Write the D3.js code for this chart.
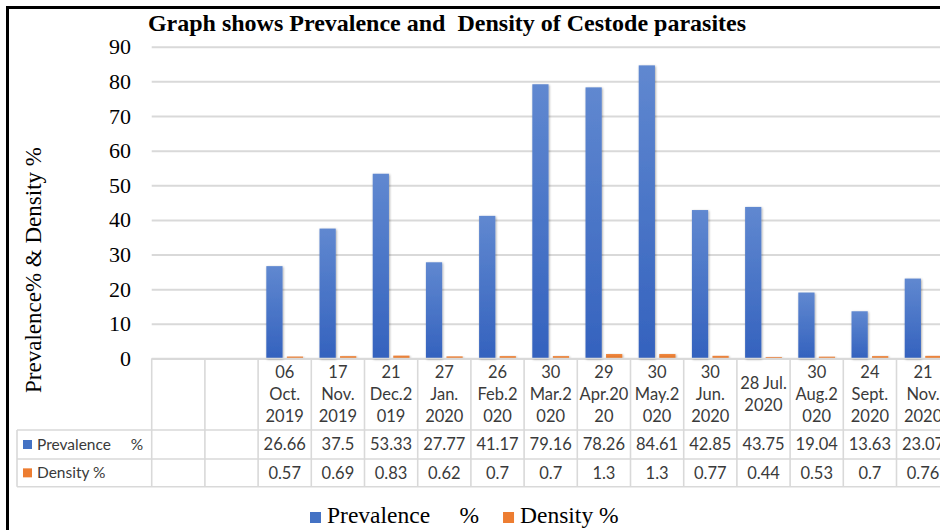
<!DOCTYPE html>
<html>
<head>
<meta charset="utf-8">
<script src="https://cdn.jsdelivr.net/npm/d3@7"></script>
<style>
  body { margin: 0; background: #fff; }
  svg { display: block; }
</style>
</head>
<body>
<svg id="chart" width="940" height="530"></svg>
<script>
// data
const categories = ["", "", "06\nOct.\n2019", "17\nNov.\n2019", "21\nDec.2\n019", "27\nJan.\n2020",
  "26\nFeb.2\n020", "30\nMar.2\n020", "29\nApr.20\n20", "30\nMay.2\n020", "30\nJun.\n2020",
  "28 Jul.\n2020", "30\nAug.2\n020", "24\nSept.\n2020", "21\nNov.\n2020"];
const prevalence = [null, null, 26.66, 37.5, 53.33, 27.77, 41.17, 79.16, 78.26, 84.61, 42.85, 43.75, 19.04, 13.63, 23.07];
const density = [null, null, 0.57, 0.69, 0.83, 0.62, 0.7, 0.7, 1.3, 1.3, 0.77, 0.44, 0.53, 0.7, 0.76];
const seriesNames = ["Prevalence     %", "Density %"];
const yTicks = [0, 10, 20, 30, 40, 50, 60, 70, 80, 90];

const serif = '"Liberation Serif", "Times New Roman", serif';
const sans = 'Lato, "Noto Sans", sans-serif';
const colors = ["#4472c4", "#ed7d31"];
const gridColor = "#d9d9d9";
const tableText = "#3a3a3a";
const tableFont = "16.5px";

const svg = d3.select("#chart");
const plotLeft = 151.7, plotRight = 949.7;

const x0 = d3.scaleBand()
  .domain(d3.range(categories.length))
  .range([plotLeft, plotRight]);
const x1 = d3.scaleBand()
  .domain([0, 1])
  .range([0, x0.bandwidth()])
  .paddingInner(0.21)
  .paddingOuter(0.4);
const y = d3.scaleLinear().domain([0, 90]).range([358.5, 46.7]);

// gradients + shadow
const defs = svg.append("defs");
const grads = [["#6088d0", "#3462be"], ["#f08a45", "#e0701f"]];
grads.forEach((g, i) => {
  const lg = defs.append("linearGradient").attr("id", "grad" + i)
    .attr("x1", 0).attr("y1", 0).attr("x2", 0).attr("y2", 1);
  lg.append("stop").attr("offset", "0%").attr("stop-color", g[0]);
  lg.append("stop").attr("offset", "100%").attr("stop-color", g[1]);
});
defs.append("filter").attr("id", "shadow")
  .attr("x", "-50%").attr("y", "-10%").attr("width", "200%").attr("height", "120%")
  .append("feDropShadow")
  .attr("dx", 0.8).attr("dy", 0.8).attr("stdDeviation", 1.2)
  .attr("flood-color", "#000").attr("flood-opacity", 0.35);

// title
svg.append("text")
  .attr("x", 447).attr("y", 30.5)
  .attr("text-anchor", "middle")
  .style("font-family", serif).style("font-weight", "bold").style("font-size", "24px")
  .style("white-space", "pre")
  .text("Graph shows Prevalence and  Density of Cestode parasites");

// gridlines
const grid = svg.append("g")
  .attr("transform", `translate(${plotLeft},0)`)
  .call(d3.axisLeft(y).tickValues(yTicks).tickSize(-(plotRight - plotLeft)).tickFormat(""));
grid.select(".domain").remove();
grid.selectAll("line").attr("stroke", gridColor).attr("stroke-width", 2);

// y tick labels
const yAxis = svg.append("g")
  .attr("transform", "translate(131,0)")
  .call(d3.axisLeft(y).tickValues(yTicks).tickSize(0).tickPadding(0));
yAxis.select(".domain").remove();
yAxis.selectAll("text")
  .style("font-family", serif).style("font-size", "22px").attr("fill", "#000");

// y title
svg.append("text")
  .attr("transform", "translate(41,270) rotate(-90)")
  .attr("text-anchor", "middle")
  .style("font-family", serif).style("font-size", "23px")
  .text("Prevalence% & Density %");

// bars
const series = [prevalence, density];
series.forEach((vals, s) => {
  svg.append("g").selectAll("rect")
    .data(vals.map((v, i) => ({ v, i })).filter(d => d.v != null))
    .join("rect")
    .attr("x", d => x0(d.i) + x1(s))
    .attr("y", d => y(d.v))
    .attr("width", x1.bandwidth())
    .attr("height", d => y(0) - y(d.v))
    .attr("fill", `url(#grad${s})`)
    .attr("filter", "url(#shadow)");
});

// data table
const headTop = y(0), headBot = 430, row1Bot = 459, row2Bot = 486.7, keyLeft = 17;
const table = svg.append("g").attr("stroke", gridColor).attr("stroke-width", 1.6);
table.append("line").attr("x1", plotLeft).attr("x2", plotRight).attr("y1", headTop).attr("y2", headTop);
[headBot, row1Bot, row2Bot].forEach(yy =>
  table.append("line").attr("x1", keyLeft).attr("x2", plotRight).attr("y1", yy).attr("y2", yy));
table.append("line").attr("x1", keyLeft).attr("x2", keyLeft).attr("y1", headBot).attr("y2", row2Bot);
table.selectAll(".v").data(d3.range(categories.length + 1)).join("line")
  .attr("x1", i => i < categories.length ? x0(i) : plotRight)
  .attr("x2", i => i < categories.length ? x0(i) : plotRight)
  .attr("y1", headTop).attr("y2", row2Bot);

// header labels
const lh = 22;
categories.forEach((c, i) => {
  if (!c) return;
  const lines = c.split("\n");
  const cx = x0(i) + x0.bandwidth() / 2;
  const mid = (headTop + headBot) / 2;
  const t = svg.append("text")
    .attr("text-anchor", "middle")
    .style("font-family", sans).style("font-size", tableFont).attr("fill", tableText);
  lines.forEach((l, k) => {
    t.append("tspan").attr("x", cx)
      .attr("y", mid + (k - (lines.length - 1) / 2) * lh)
      .attr("dy", "0.35em").text(l);
  });
});

// row values
const rowMids = [(headBot + row1Bot) / 2, (row1Bot + row2Bot) / 2];
series.forEach((vals, s) => {
  svg.append("g").selectAll("text")
    .data(vals.map((v, i) => ({ v, i })).filter(d => d.v != null))
    .join("text")
    .attr("x", d => x0(d.i) + x0.bandwidth() / 2)
    .attr("y", rowMids[s]).attr("dy", "0.35em")
    .attr("text-anchor", "middle")
    .style("font-family", sans).style("font-size", tableFont).attr("fill", tableText)
    .text(d => d.v);
  svg.append("rect").attr("x", 23).attr("y", rowMids[s] - 4.5).attr("width", 9).attr("height", 9)
    .attr("fill", colors[s]);
  svg.append("text").attr("x", 37).attr("y", rowMids[s]).attr("dy", "0.35em")
    .style("font-family", sans).style("font-size", "15.5px").style("white-space", "pre")
    .attr("fill", tableText).text(seriesNames[s]);
});

// bottom legend
let lx = 310;
seriesNames.forEach((name, s) => {
  svg.append("rect").attr("x", lx).attr("y", 512).attr("width", 11).attr("height", 11).attr("fill", colors[s]);
  const t = svg.append("text").attr("x", lx + 17).attr("y", 523)
    .style("font-family", serif).style("font-size", "23.5px").style("white-space", "pre")
    .text(name);
  lx += 17 + t.node().getComputedTextLength() + 24;
});

// outer frame (left and top only, picture is cropped elsewhere)
svg.append("path").attr("d", "M7.5,540 V7.5 H950")
  .attr("fill", "none").attr("stroke", "#000").attr("stroke-width", 3);
</script>
</body>
</html>
